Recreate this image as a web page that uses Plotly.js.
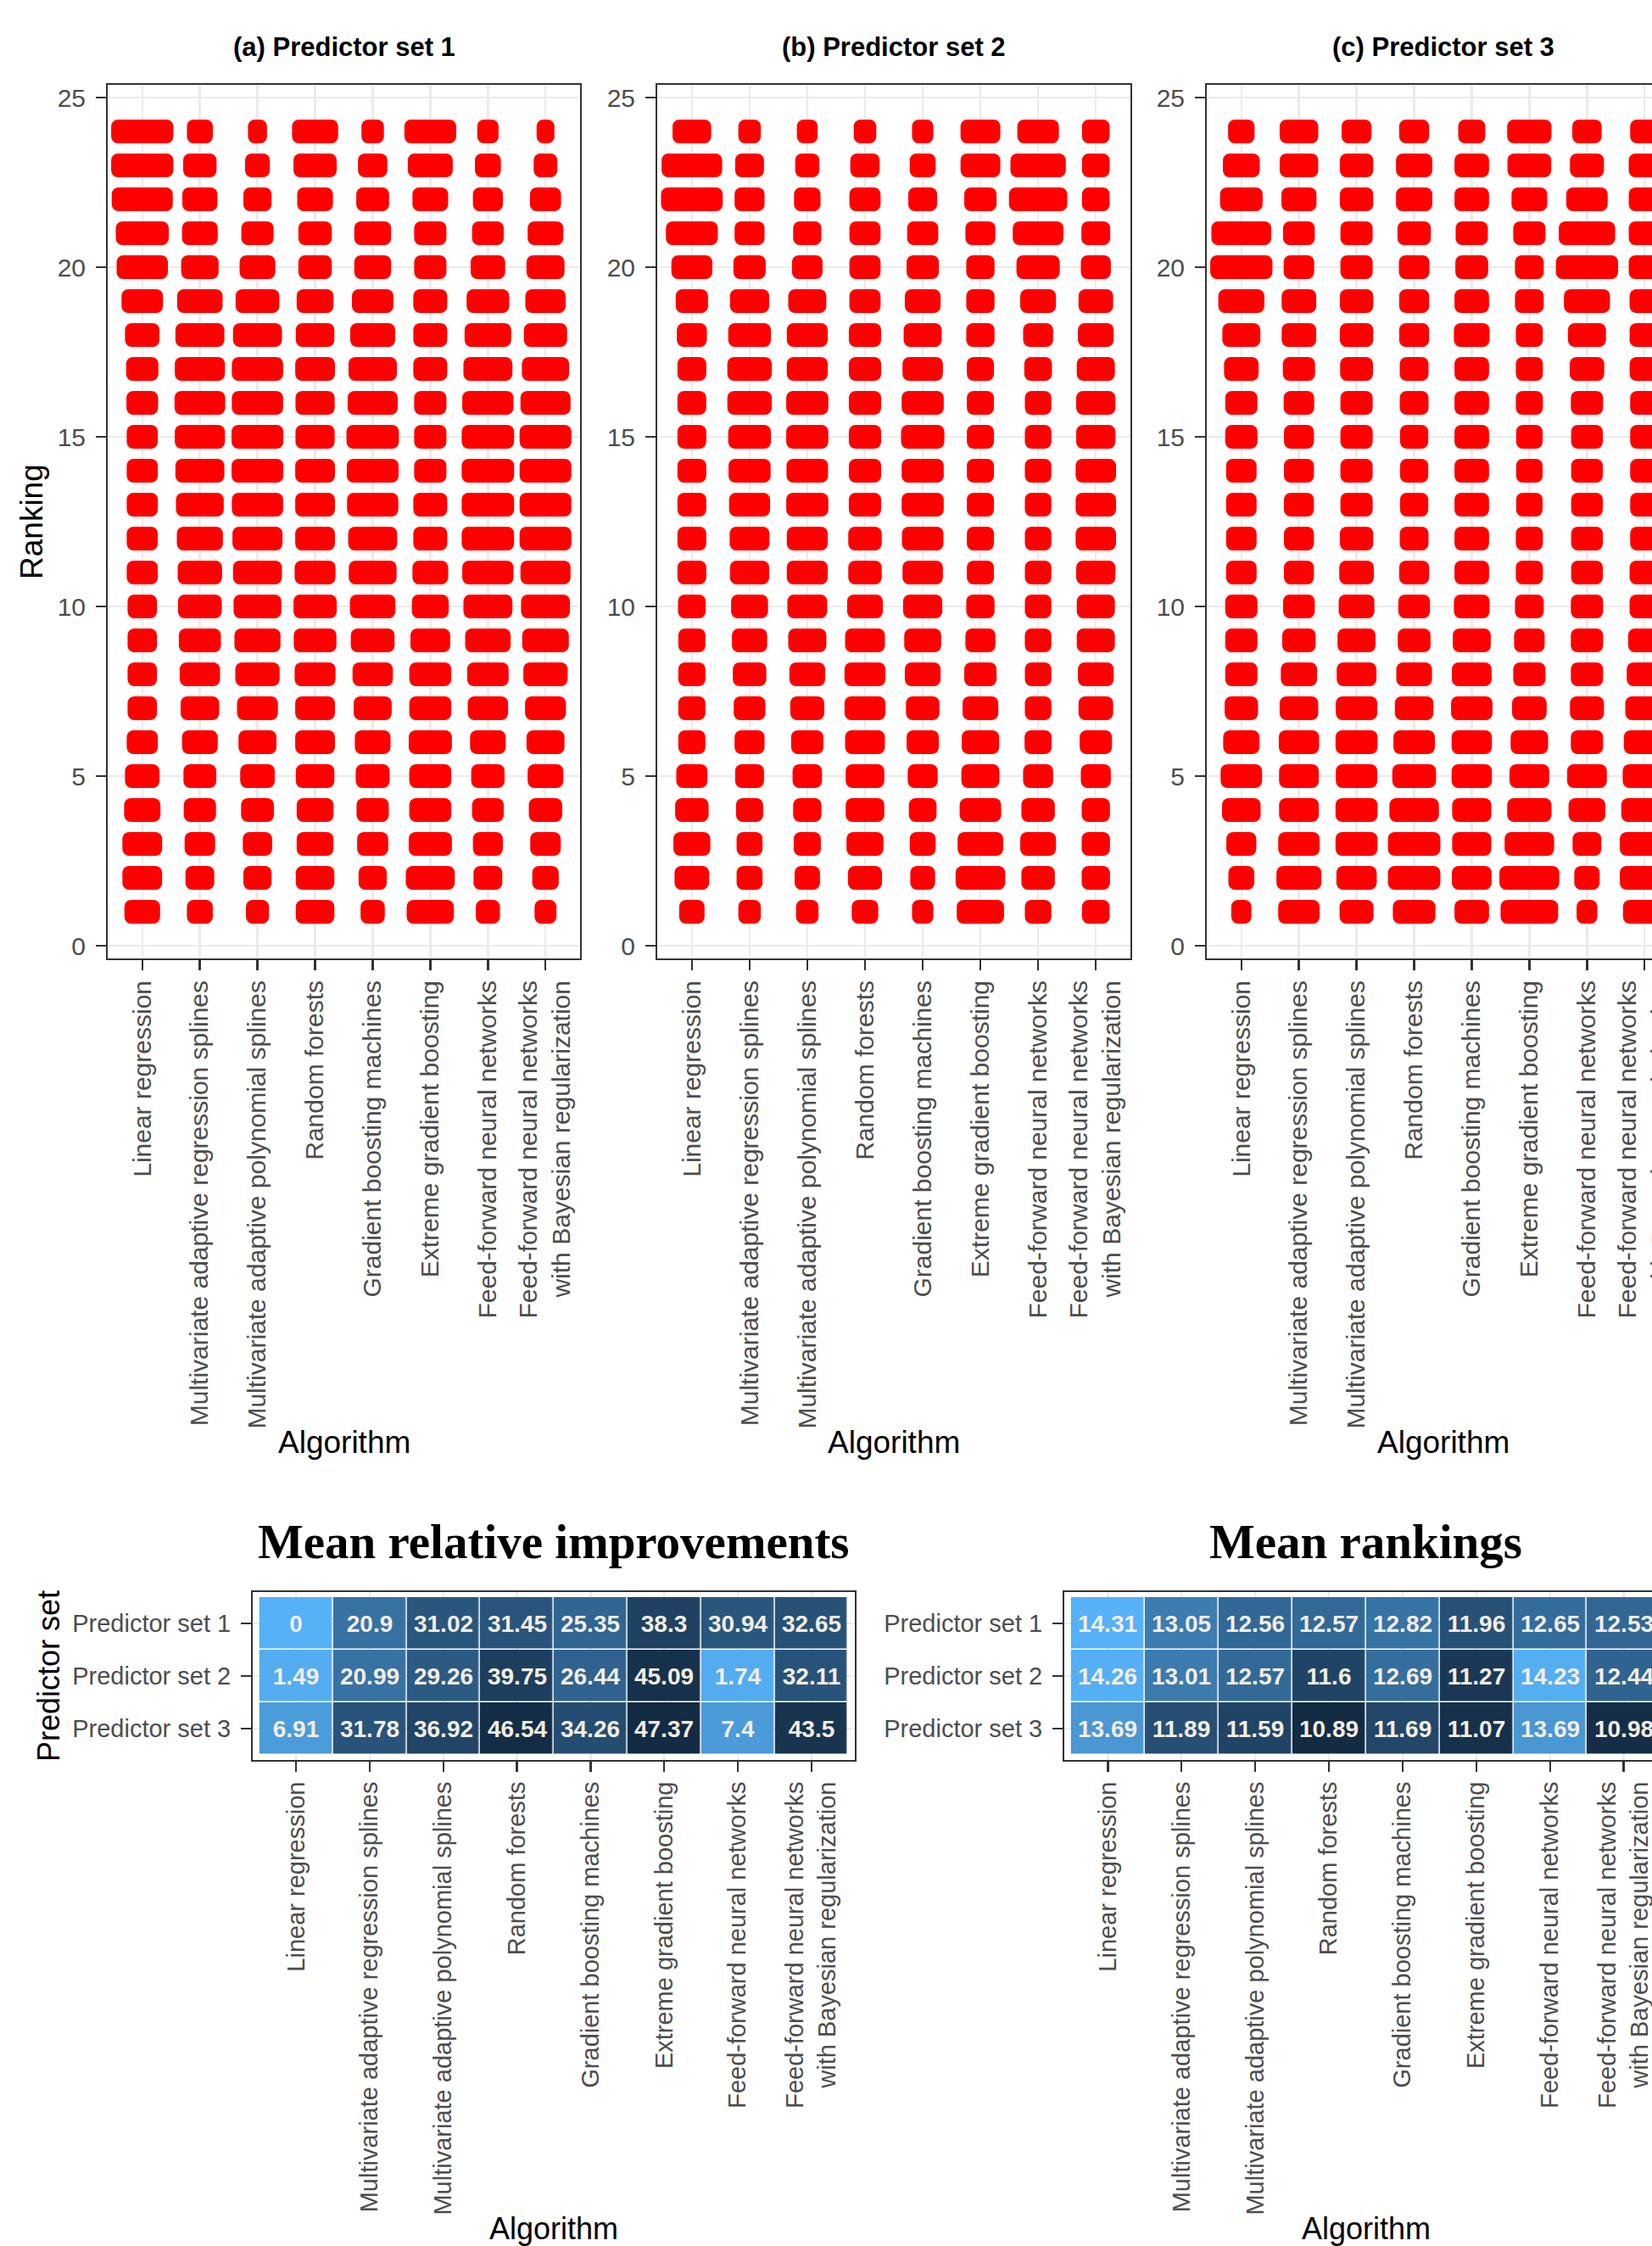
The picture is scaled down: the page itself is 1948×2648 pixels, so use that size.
<!DOCTYPE html>
<html>
<head>
<meta charset="utf-8">
<script src="https://cdn.plot.ly/plotly-3.0.1.min.js"></script>
<style>
  html, body { margin: 0; padding: 0; overflow: hidden; background: #ffffff; }
  #chart { width: 2000px; height: 2648px; }
</style>
</head>
<body>
<div id="chart"></div>
<script>
// ---- Categories ----
const algorithms = [
  "Linear regression",
  "Multivariate adaptive regression splines",
  "Multivariate adaptive polynomial splines",
  "Random forests",
  "Gradient boosting machines",
  "Extreme gradient boosting",
  "Feed-forward neural networks",
  "Feed-forward neural networks<br>with Bayesian regularization"
];
const predictorSets = ["Predictor set 1", "Predictor set 2", "Predictor set 3"];
const panelTitles = ["(a) Predictor set 1", "(b) Predictor set 2", "(c) Predictor set 3"];
const rankTicks = [0, 5, 10, 15, 20, 25];

// ---- Frequency of each ranking (rank 1 -> 24), in hundredths of a category slot ----
// Predictor set 1
const set1_linReg = [62,69,69,63,60,54,51,51,51,51,54,54,54,54,54,55,56,60,72,89,92,106,108,108];
const set1_mars   = [45,50,53,56,57,62,67,70,73,76,77,80,83,85,87,88,87,85,79,65,62,61,58,45];
const set1_maps   = [40,49,51,57,60,66,71,77,80,83,85,87,89,90,90,89,89,85,76,62,56,49,43,33];
const set1_rf     = [67,67,64,64,67,69,69,71,74,75,71,69,69,69,68,68,69,67,64,58,58,62,75,80];
const set1_gbm    = [42,49,54,56,59,62,66,70,76,79,83,85,89,90,91,87,84,78,72,64,64,57,51,39];
const set1_xgb    = [82,85,75,73,73,75,73,73,69,64,62,59,59,56,56,56,59,59,59,56,56,62,78,90];
const set1_ffnn   = [42,50,52,55,58,62,70,72,79,85,89,91,91,91,91,89,85,81,74,60,55,52,45,37];
const set1_brnn   = [38,46,53,58,62,66,71,77,81,85,87,90,90,90,90,87,82,75,70,66,62,54,41,31];
// Predictor set 2
const set2_linReg = [44,60,64,58,54,47,47,47,47,48,50,50,50,50,50,50,50,52,56,71,90,107,105,67];
const set2_mars   = [39,45,45,47,50,52,55,58,61,64,68,69,71,73,74,77,77,74,68,56,52,52,50,39];
const set2_maps   = [39,44,47,49,51,56,59,62,66,69,71,71,73,72,73,73,71,71,66,53,49,46,42,36];
const set2_rf     = [46,59,64,67,67,69,71,71,69,62,58,58,56,56,56,56,56,56,54,54,54,54,51,39];
const set2_gbm    = [37,43,45,48,52,56,58,62,64,68,70,72,73,73,75,73,70,66,62,56,54,50,45,37];
const set2_xgb    = [82,86,79,72,66,65,62,56,52,49,47,47,47,47,47,47,47,49,49,49,52,56,69,69];
const set2_ffnn   = [46,58,62,58,52,47,46,46,46,46,46,46,46,46,46,46,48,52,62,75,88,101,96,72];
const set2_brnn   = [48,49,49,49,52,56,60,62,66,66,68,70,70,70,68,68,66,62,60,52,50,48,48,48];
// Predictor set 3
const set3_linReg = [35,45,52,67,72,63,58,56,56,56,53,53,53,53,56,56,60,66,80,108,104,74,64,46];
const set3_mars   = [72,78,72,69,69,70,67,63,58,55,52,52,52,52,52,53,56,60,60,53,55,61,67,67];
const set3_maps   = [59,70,73,73,72,73,72,69,66,62,60,58,56,56,56,56,57,58,58,56,56,58,58,52];
const set3_rf     = [74,91,91,86,76,72,67,62,57,55,52,50,49,49,49,50,50,52,52,53,58,63,63,52];
const set3_gbm    = [60,69,68,68,70,70,72,69,66,62,60,60,60,60,60,60,60,62,60,57,56,60,60,47];
const set3_xgb    = [100,104,86,77,69,65,60,56,53,50,47,47,46,46,46,47,47,47,50,50,56,62,76,77];
const set3_ffnn   = [36,44,50,64,69,56,59,56,56,56,55,55,55,55,55,56,60,66,80,108,98,72,59,51];
const set3_brnn   = [75,86,86,81,76,72,67,62,57,52,52,50,50,50,50,50,52,52,52,55,55,55,55,50];

// ---- Mean relative improvements (rows: predictor sets, cols: algorithms) ----
const improveSet1 = [0, 20.9, 31.02, 31.45, 25.35, 38.3, 30.94, 32.65];
const improveSet2 = [1.49, 20.99, 29.26, 39.75, 26.44, 45.09, 1.74, 32.11];
const improveSet3 = [6.91, 31.78, 36.92, 46.54, 34.26, 47.37, 7.4, 43.5];

// ---- Mean rankings ----
const rankSet1 = [14.31, 13.05, 12.56, 12.57, 12.82, 11.96, 12.65, 12.53];
const rankSet2 = [14.26, 13.01, 12.57, 11.6, 12.69, 11.27, 14.23, 12.44];
const rankSet3 = [13.69, 11.89, 11.59, 10.89, 11.69, 11.07, 13.69, 10.98];

// ---- Page geometry ----
const W = 2000, H = 2648;
const fx = p => p / W;
const fy = p => 1 - p / H;
const FONT = "Liberation Sans, Arial, Helvetica, sans-serif";
const SERIF = "Liberation Serif, Times New Roman, serif";

const panels = [
  { freqs: [set1_linReg, set1_mars, set1_maps, set1_rf, set1_gbm, set1_xgb, set1_ffnn, set1_brnn], x0: 127, x1: 684 },
  { freqs: [set2_linReg, set2_mars, set2_maps, set2_rf, set2_gbm, set2_xgb, set2_ffnn, set2_brnn], x0: 775, x1: 1333 },
  { freqs: [set3_linReg, set3_mars, set3_maps, set3_rf, set3_gbm, set3_xgb, set3_ffnn, set3_brnn], x0: 1423, x1: 1980 }
];
const panelTop = 100, panelBottom = 1130;
const heatTop = 1877, heatBottom = 2075;
const heatBoxes = [[298, 1008], [1255, 1966]];

const algoPos = algorithms.map((_, i) => i + 1);

const axisBase = {
  showline: true, mirror: true, linecolor: '#333333', linewidth: 2,
  ticks: 'outside', ticklen: 12, tickwidth: 2.5, tickcolor: '#333333',
  showgrid: true, gridcolor: '#ebebeb', gridwidth: 2.5,
  zeroline: false, automargin: false, fixedrange: true,
  tickfont: { family: FONT, size: 30, color: '#4d4d4d' }
};

const traces = [];
const layout = {
  width: W, height: H,
  margin: { l: 0, r: 0, t: 0, b: 0 },
  paper_bgcolor: '#ffffff', plot_bgcolor: '#ffffff',
  showlegend: false, barmode: 'overlay',
  font: { family: FONT, color: '#000000' },
  annotations: []
};

// ---- Ranking dot panels ----
panels.forEach((p, k) => {
  const n = k + 1;
  const xa = 'xaxis' + (n === 1 ? '' : n);
  const ya = 'yaxis' + (n === 1 ? '' : n);
  const y = [], x = [], base = [];
  p.freqs.forEach((arr, i) => {
    arr.forEach((v, r) => {
      const w = v / 100;
      y.push(r + 1);
      x.push(w);
      base.push(algoPos[i] - w / 2);
    });
  });
  traces.push({
    type: 'bar', orientation: 'h', x: x, y: y, base: base, width: 0.7,
    marker: { color: '#ff0000', cornerradius: 8, line: { width: 0 } },
    xaxis: 'x' + (n === 1 ? '' : n), yaxis: 'y' + (n === 1 ? '' : n),
    hoverinfo: 'skip', showlegend: false
  });
  layout[xa] = Object.assign({}, axisBase, {
    domain: [fx(p.x0), fx(p.x1)], anchor: 'y' + (n === 1 ? '' : n),
    range: [0.4, 8.6], tickmode: 'array', tickvals: algoPos, ticktext: algorithms,
    tickangle: -90, ticklabelstandoff: 0,
    tickfont: { family: FONT, size: 30, color: '#4d4d4d' }
  });
  layout[ya] = Object.assign({}, axisBase, {
    domain: [fy(panelBottom), fy(panelTop)], anchor: 'x' + (n === 1 ? '' : n),
    range: [-0.375, 25.375], tickmode: 'array', tickvals: rankTicks,
    ticktext: rankTicks.map(String), ticklabelstandoff: 6
  });
  const cx = (p.x0 + p.x1) / 2;
  layout.annotations.push({
    xref: 'paper', yref: 'paper', x: fx(cx), y: fy(55), xanchor: 'center', yanchor: 'middle',
    text: '<b>' + panelTitles[k] + '</b>', showarrow: false,
    font: { family: FONT, size: 31, color: '#000000' }
  });
  layout.annotations.push({
    xref: 'paper', yref: 'paper', x: fx(cx), y: fy(1700), xanchor: 'center', yanchor: 'middle',
    text: 'Algorithm', showarrow: false, font: { family: FONT, size: 37, color: '#000000' }
  });
});
layout.annotations.push({
  xref: 'paper', yref: 'paper', x: fx(38), y: fy((panelTop + panelBottom) / 2),
  xanchor: 'center', yanchor: 'middle', textangle: -90,
  text: 'Ranking', showarrow: false, font: { family: FONT, size: 37, color: '#000000' }
});

// ---- Heatmaps ----
const blueDark = '#132B43', blueLight = '#56B1F7';
const blueRamp = [[0, blueDark], [0.25, '#23496C'], [0.5, '#336A98'], [0.75, '#448DC6'], [1, blueLight]];
const blueRampRev = blueRamp.map(([t, c]) => [1 - t, c]).reverse();

const heatmaps = [
  { z: [improveSet1, improveSet2, improveSet3], title: 'Mean relative improvements', scale: blueRampRev },
  { z: [rankSet1, rankSet2, rankSet3], title: 'Mean rankings', scale: blueRamp }
];

heatmaps.forEach((hm, k) => {
  const n = k + 4;
  const [x0, x1] = heatBoxes[k];
  const all = hm.z.flat();
  traces.push({
    type: 'heatmap', z: hm.z, x: algoPos, y: [1, 2, 3],
    xaxis: 'x' + n, yaxis: 'y' + n,
    colorscale: hm.scale, zmin: Math.min(...all), zmax: Math.max(...all), showscale: false,
    xgap: 1.5, ygap: 1.5,
    texttemplate: '<b>%{z}</b>',
    textfont: { family: FONT, size: 28, color: '#f2ede2' },
    hoverinfo: 'skip'
  });
  layout['xaxis' + n] = Object.assign({}, axisBase, {
    domain: [fx(x0), fx(x1)], anchor: 'y' + n,
    range: [0.41, 8.59], tickmode: 'array', tickvals: algoPos, ticktext: algorithms,
    tickangle: -90, ticklabelstandoff: 0,
    tickfont: { family: FONT, size: 29, color: '#4d4d4d' }
  });
  layout['yaxis' + n] = Object.assign({}, axisBase, {
    domain: [fy(heatBottom), fy(heatTop)], anchor: 'x' + n,
    range: [3.596, 0.404], tickmode: 'array', tickvals: [1, 2, 3], ticktext: predictorSets,
    ticklabelstandoff: 6,
    tickfont: { family: FONT, size: 29, color: '#4d4d4d' }
  });
  const cx = (x0 + x1) / 2;
  layout.annotations.push({
    xref: 'paper', yref: 'paper', x: fx(cx), y: fy(1817), xanchor: 'center', yanchor: 'middle',
    text: '<b>' + hm.title + '</b>', showarrow: false,
    font: { family: SERIF, size: 57, color: '#000000' }
  });
  layout.annotations.push({
    xref: 'paper', yref: 'paper', x: fx(cx), y: fy(2627), xanchor: 'center', yanchor: 'middle',
    text: 'Algorithm', showarrow: false, font: { family: FONT, size: 36, color: '#000000' }
  });
});
layout.annotations.push({
  xref: 'paper', yref: 'paper', x: fx(57), y: fy((heatTop + heatBottom) / 2),
  xanchor: 'center', yanchor: 'middle', textangle: -90,
  text: 'Predictor set', showarrow: false, font: { family: FONT, size: 36, color: '#000000' }
});

Plotly.newPlot('chart', traces, layout, { staticPlot: true, displayModeBar: false });
</script>
</body>
</html>
